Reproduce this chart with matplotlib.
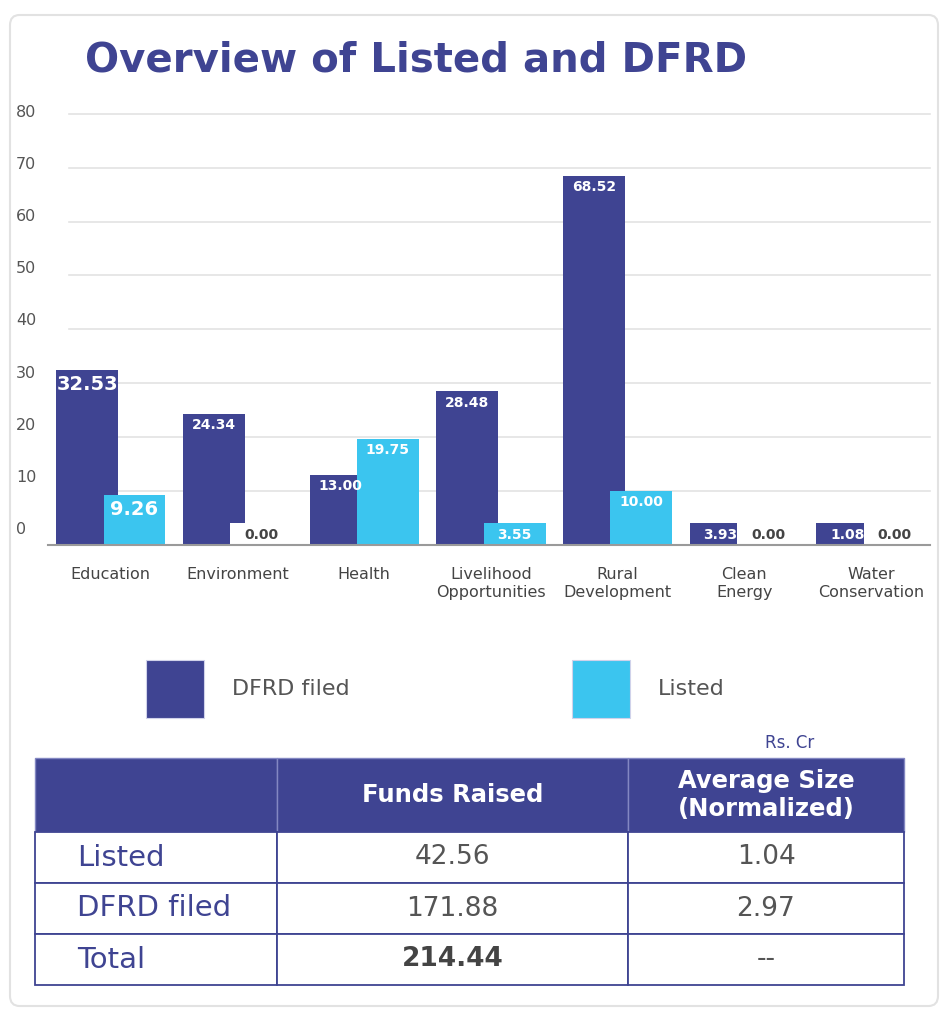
import matplotlib
matplotlib.use("Agg")
import matplotlib.pyplot as plt
from matplotlib.patches import FancyBboxPatch, Patch
import numpy as np

# ---------------- data ----------------
categories = ["Education", "Environment", "Health", "Livelihood\nOpportunities",
              "Rural\nDevelopment", "Clean\nEnergy", "Water\nConservation"]
dfrd_values = [32.53, 24.34, 13.00, 28.48, 68.52, 3.93, 1.08]
listed_values = [9.26, 0.00, 19.75, 3.55, 10.00, 0.00, 0.00]
y_ticks = [0, 10, 20, 30, 40, 50, 60, 70, 80]
series_names = ["DFRD filed", "Listed"]
big_label_categories = ["Education"]

table_columns = ["", "Funds Raised", "Average Size\n(Normalized)"]
table_rows = ["Listed", "DFRD filed", "Total"]
funds_raised = ["42.56", "171.88", "214.44"]
average_size = ["1.04", "2.97", "--"]
unit_note = "Rs. Cr"
title = "Overview of Listed and DFRD"

# ---------------- style ----------------
plt.rcParams['font.family'] = ['DejaVu Sans']
INDIGO = "#3F4492"
CYAN = "#3BC5EF"
GRAY_TXT = "#555555"
W, H = 948, 1024

fig = plt.figure(figsize=(W / 100, H / 100), dpi=100)
fig.patch.set_facecolor("white")


def fx(px):
    return px / W


def fy(py):
    return 1 - py / H


# card border
card = FancyBboxPatch((fx(10), fy(1006)), fx(938) - fx(10), fy(15) - fy(1006),
                      boxstyle="round,pad=0,rounding_size=0.01",
                      transform=fig.transFigure, facecolor="none",
                      edgecolor="#e2e2e2", linewidth=1.5, zorder=-1)
fig.patches.append(card)

# title
fig.text(fx(85), fy(61), title, fontsize=29, fontweight="bold", color=INDIGO,
         ha="left", va="center")

# ---------------- bar chart ----------------
ax = fig.add_axes([fx(69), fy(545), fx(930) - fx(69), fy(113.7) - fy(545)])
ax.set_ylim(0, 80)
ax.set_xlim(-0.330, 6.465)
ax.patch.set_visible(False)
for s in ax.spines.values():
    s.set_visible(False)
ax.set_yticks(y_ticks)
ax.set_yticklabels([])
ax.tick_params(axis="y", length=0)
ax.yaxis.grid(True, color="#e3e3e3", linewidth=1.2)
for gl in ax.get_ygridlines():
    gl.set_clip_on(False)
ax.set_axisbelow(True)

x = np.arange(len(categories))
off, bw = 0.187, 0.489
bars = []
bars += list(ax.bar(x - off, dfrd_values, bw, color=INDIGO, zorder=2))
bars += list(ax.bar(x + off, listed_values, bw, color=CYAN, zorder=3))

# data labels (boxes of at least a minimum height)
min_box = 4.0
for xs, vals, col in [(x - off, dfrd_values, INDIGO), (x + off, listed_values, CYAN)]:
    for xi, v, cat in zip(xs, vals, categories):
        top = max(v, min_box)
        face = col if v > 0 else "white"
        if v < min_box:
            bars += list(ax.bar(xi, top, bw, color=face, zorder=4))
        big = cat in big_label_categories
        ax.text(xi, top - (2.7 if big else 2.1), f"{v:.2f}",
                ha="center", va="center", fontsize=14 if big else 10,
                fontweight="bold", color="white" if v > 0 else "#444444",
                zorder=5, clip_on=False)
for b in bars:
    b.set_clip_on(False)

ax.axhline(0, xmin=(48 - 69) / (930 - 69), xmax=1, color="#9a9a9a",
           linewidth=1.5, clip_on=False, zorder=6)

ax.set_xticks(x)
ax.set_xticklabels(categories, fontsize=11.5, color="#444444", linespacing=1.3)
ax.tick_params(axis="x", length=0, pad=15.5)

# y tick labels (slightly offset scale as in the original)
lab = fig.add_axes([fx(16) - 0.001, fy(528), 0.001, fy(110.7) - fy(528)])
lab.set_ylim(0, 80)
lab.patch.set_visible(False)
for s in lab.spines.values():
    s.set_visible(False)
lab.set_xticks([])
lab.yaxis.tick_right()
lab.set_yticks(y_ticks)
lab.set_yticklabels([str(t) for t in y_ticks], fontsize=11.5, color=GRAY_TXT)
lab.tick_params(axis="y", length=0, pad=0)

# ---------------- legend ----------------
for name, col, xpos in [(series_names[0], INDIGO, 146), (series_names[1], CYAN, 572)]:
    fig.legend(handles=[Patch(facecolor=col, edgecolor="#d0d2ea", linewidth=0.8)],
               labels=[name], loc="center left",
               bbox_to_anchor=(fx(xpos), fy(689)), frameon=False, fontsize=16,
               handlelength=2.61, handleheight=3.64, handletextpad=1.26,
               borderpad=0, borderaxespad=0, labelcolor=GRAY_TXT)

# ---------------- table ----------------
fig.text(fx(790), fy(743), unit_note, ha="center", va="center", color=INDIGO,
         fontsize=12)

tax = fig.add_axes([fx(35), fy(985), fx(904) - fx(35), fy(758) - fy(985)])
tax.axis("off")
cell_text = [[r, f, a] for r, f, a in zip(table_rows, funds_raised, average_size)]
tbl = tax.table(cellText=cell_text, colLabels=table_columns, cellLoc="center",
                bbox=[0, 0, 1, 1])
tbl.auto_set_font_size(False)
col_w = [242, 351, 276]
for (r, c), cell in tbl.get_celld().items():
    cell.set_width(col_w[c])
    cell.set_height(74 if r == 0 else 51)
    txt = cell.get_text()
    if r == 0:
        cell.set_facecolor(INDIGO)
        cell.set_edgecolor("#8387c2")
        cell.set_linewidth(1.0)
        txt.set_color("white")
        txt.set_fontweight("bold")
        txt.set_fontsize(17.5)
        txt.set_linespacing(1.2)
    else:
        cell.set_facecolor("white")
        cell.set_edgecolor(INDIGO)
        cell.set_linewidth(1.3)
        if c == 0:
            cell._loc = "left"
            cell.PAD = 42 / 242
            txt.set_ha("left")
            txt.set_color(INDIGO)
            txt.set_fontsize(21)
        else:
            txt.set_color(GRAY_TXT)
            txt.set_fontsize(19)
            if r == len(table_rows) and c == 1:
                txt.set_fontweight("bold")
                txt.set_color("#444444")

fig.savefig("out.png", dpi=100, facecolor="white")
